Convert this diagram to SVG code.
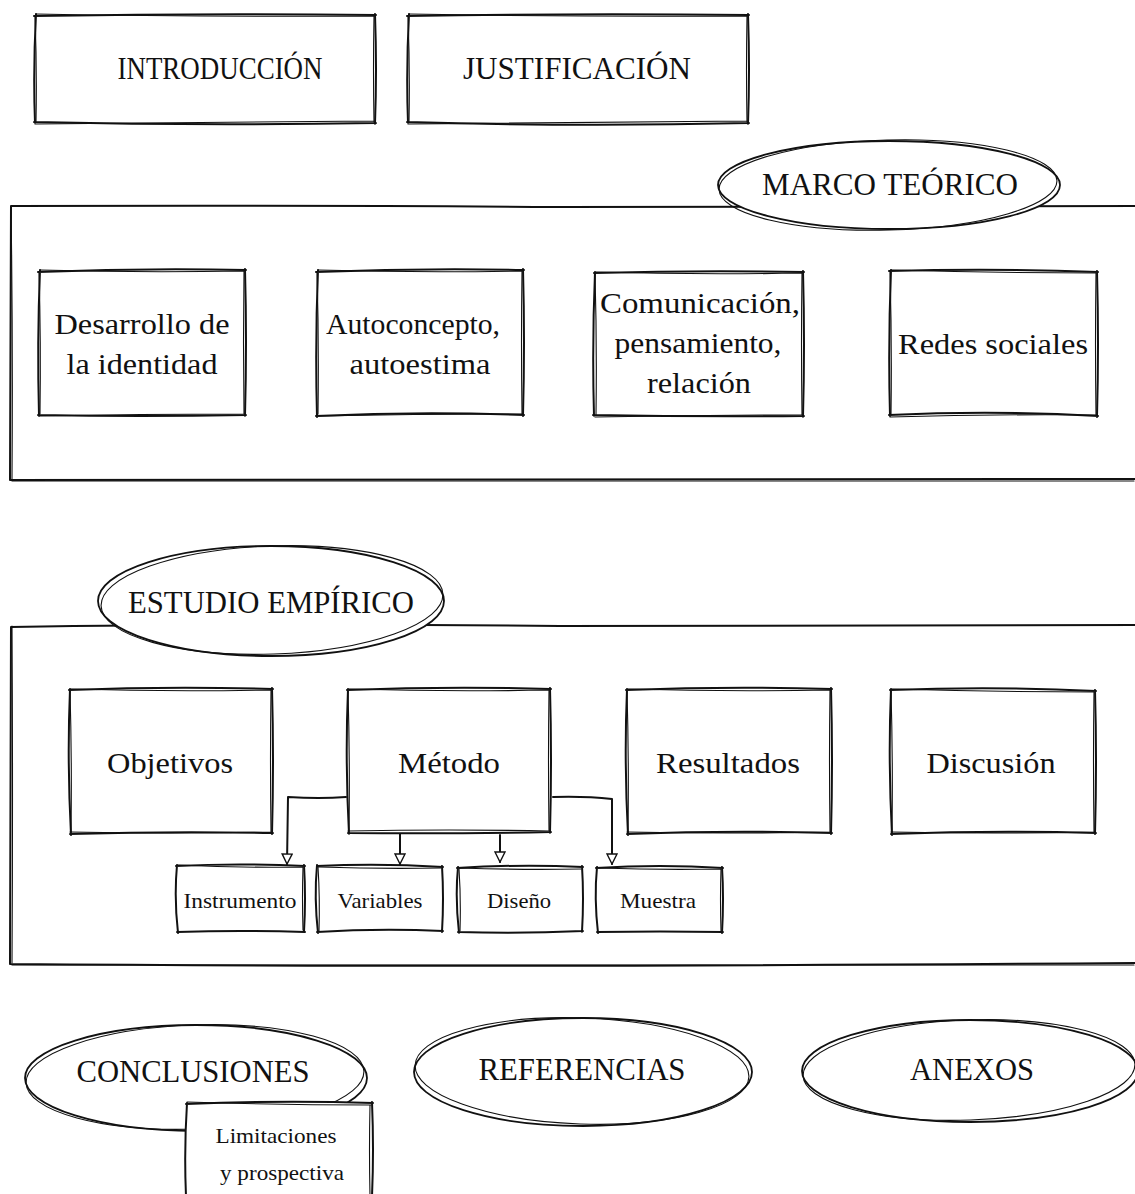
<svg xmlns="http://www.w3.org/2000/svg" width="1135" height="1194" viewBox="0 0 1135 1194">
<defs>
<style>
.s{fill:none;stroke:#111;stroke-width:2;stroke-linecap:round;stroke-linejoin:round}
.s2{fill:none;stroke:#111;stroke-width:1.1;stroke-linecap:round}
.f{fill:#fff}
.t{fill:#111;text-anchor:middle}
.big{font-size:31px}
.mid{font-size:30px}
.sm{font-size:21px}
</style>
<marker id="ah" viewBox="0 0 12 12" refX="11" refY="6" markerWidth="12" markerHeight="12" markerUnits="userSpaceOnUse" orient="auto">
<path d="M1,1 L11,6 L1,11 Z" fill="#fff" stroke="#111" stroke-width="1.4"/>
</marker>
</defs>
<rect width="1135" height="1194" fill="#fff"/>
<g font-family="Liberation Serif, Tinos, Times New Roman, Times, serif">

<g id="introduccion">
<path class="s" d="M34,16 Q205,13 376,15 M375,14 Q377,70 375,124 M376,123 Q205,126 34,122 M35,123 Q33,70 36,14"/>
<path class="s2" d="M36,14 Q200,17 374,16 M374,16 Q373,70 374,122 M374,121 Q210,122 35,124 M36,122 Q37,70 35,16"/>
<text class="t big" x="220" y="79" textLength="205" lengthAdjust="spacingAndGlyphs">INTRODUCCIÓN</text>
</g>

<g id="justificacion">
<path class="s" d="M407,16 Q578,13 749,15 M748,14 Q750,70 748,124 M749,123 Q578,127 407,122 M408,123 Q406,70 409,14"/>
<path class="s2" d="M409,14 Q575,17 747,16 M747,16 Q746,70 747,122 M747,121 Q580,122 408,124 M409,122 Q410,70 408,16"/>
<text class="t big" x="577" y="79" textLength="228" lengthAdjust="spacingAndGlyphs">JUSTIFICACIÓN</text>
</g>

<g id="marco-container">
<path class="s" d="M1135,206 L560,207 Q300,205 11,206 L10,480 Q500,482 1135,479"/>
<path class="s2" d="M11,207 Q13,340 12,479 M12,481 Q500,479 1134,481"/>
</g>

<g id="marco-teorico">
<ellipse cx="889" cy="185" rx="171" ry="44" class="f" stroke="#111" stroke-width="1.8"/>
<ellipse cx="888" cy="185" rx="169" ry="45" class="s2" transform="rotate(-1.5 888 185)"/>
<text class="t big" x="890" y="195" textLength="256" lengthAdjust="spacingAndGlyphs">MARCO TEÓRICO</text>
</g>

<g id="desarrollo">
<path class="s" d="M38,272 Q140,268 246,270 M245,269 Q247,342 245,416 M246,415 Q140,417 38,415 M39,416 Q37,342 40,270"/>
<path class="s2" d="M40,270 Q140,273 244,271 M244,271 Q243,342 244,414 M244,414 Q140,414 39,416 M40,414 Q41,342 39,272"/>
<text class="t mid" x="142" y="334" textLength="175" lengthAdjust="spacingAndGlyphs">Desarrollo de</text>
<text class="t mid" x="142" y="374" textLength="151" lengthAdjust="spacingAndGlyphs">la identidad</text>
</g>

<g id="autoconcepto">
<path class="s" d="M316,272 Q420,268 524,270 M523,269 Q525,342 523,416 M524,415 Q420,411 316,416 M317,417 Q315,342 318,270"/>
<path class="s2" d="M318,270 Q420,273 522,271 M522,271 Q521,342 522,414 M522,414 Q420,414 317,416 M318,414 Q319,342 317,272"/>
<text class="t mid" x="413" y="334" textLength="174" lengthAdjust="spacingAndGlyphs">Autoconcepto,</text>
<text class="t mid" x="420" y="374" textLength="141" lengthAdjust="spacingAndGlyphs">autoestima</text>
</g>

<g id="comunicacion">
<path class="s" d="M594,273 Q700,270 804,272 M803,271 Q805,344 803,417 M804,416 Q700,417 593,415 M594,416 Q592,344 595,272"/>
<path class="s2" d="M596,272 Q700,275 802,273 M802,273 Q801,344 802,415 M802,415 Q700,415 595,417 M596,415 Q597,344 595,274"/>
<text class="t mid" x="700" y="313" textLength="200" lengthAdjust="spacingAndGlyphs">Comunicación,</text>
<text class="t mid" x="698" y="353" textLength="167" lengthAdjust="spacingAndGlyphs">pensamiento,</text>
<text class="t mid" x="699" y="393" textLength="104" lengthAdjust="spacingAndGlyphs">relación</text>
</g>

<g id="redes">
<path class="s" d="M889,271 Q995,268 1098,272 M1097,271 Q1099,344 1097,417 M1098,416 Q995,410 889,415 M890,416 Q888,344 891,270"/>
<path class="s2" d="M891,270 Q995,273 1096,273 M1096,273 Q1095,344 1096,415 M1096,415 Q995,414 890,417 M891,415 Q892,344 890,272"/>
<text class="t mid" x="993" y="354" textLength="190" lengthAdjust="spacingAndGlyphs">Redes sociales</text>
</g>

<g id="estudio-container">
<path class="s" d="M1135,625 L560,626 Q300,623 11,627 L10,964 Q500,968 1135,963"/>
<path class="s2" d="M12,626 Q13,800 12,963 M12,965 Q500,963 1134,965"/>
</g>

<g id="estudio-empirico">
<ellipse cx="271" cy="601" rx="173" ry="55" class="f" stroke="#111" stroke-width="1.8"/>
<ellipse cx="272" cy="600" rx="171" ry="54" class="s2" transform="rotate(-2 272 600)"/>
<text class="t big" x="271" y="613" textLength="286" lengthAdjust="spacingAndGlyphs">ESTUDIO EMPÍRICO</text>
</g>

<g id="objetivos">
<path class="s" d="M69,690 Q170,686 273,689 M272,688 Q274,760 272,834 M273,833 Q170,831 70,834 M71,835 Q67,760 70,689"/>
<path class="s2" d="M71,689 Q170,692 271,690 M271,690 Q270,760 271,832 M271,832 Q170,834 70,832 M71,832 Q72,760 70,691"/>
<text class="t mid" x="170" y="773" textLength="126" lengthAdjust="spacingAndGlyphs">Objetivos</text>
</g>

<g id="metodo">
<path class="s" d="M347,690 Q450,686 551,689 M550,688 Q552,760 550,833 M551,832 Q450,834 348,833 M349,834 Q345,760 348,689"/>
<path class="s2" d="M349,689 Q450,692 549,690 M549,690 Q548,760 549,831 M549,831 Q450,829 348,831 M349,831 Q350,760 348,691"/>
<text class="t mid" x="449" y="773" textLength="102" lengthAdjust="spacingAndGlyphs">Método</text>
</g>

<g id="resultados">
<path class="s" d="M626,690 Q730,686 832,689 M831,688 Q833,760 831,834 M832,833 Q730,830 627,834 M628,835 Q624,760 627,689"/>
<path class="s2" d="M628,689 Q730,692 830,690 M830,690 Q829,760 830,832 M830,832 Q730,834 627,832 M628,832 Q629,760 627,691"/>
<text class="t mid" x="728" y="773" textLength="144" lengthAdjust="spacingAndGlyphs">Resultados</text>
</g>

<g id="discusion">
<path class="s" d="M890,690 Q995,686 1096,691 M1095,690 Q1097,760 1095,834 M1096,833 Q995,830 891,834 M892,835 Q888,760 891,689"/>
<path class="s2" d="M892,689 Q995,692 1094,692 M1094,692 Q1093,760 1094,832 M1094,832 Q995,834 891,832 M892,832 Q893,760 891,691"/>
<text class="t mid" x="991" y="773" textLength="129" lengthAdjust="spacingAndGlyphs">Discusión</text>
</g>

<g id="instrumento">
<path class="s" d="M176,866 Q240,863 305,866 M304,865 Q306,898 304,932 M305,932 Q240,930 177,932 M178,933 Q174,898 177,865"/>
<path class="s2" d="M178,865 Q240,868 303,867 M303,867 Q302,898 303,930"/>
<text class="t sm" x="240" y="908" textLength="113" lengthAdjust="spacingAndGlyphs">Instrumento</text>
</g>

<g id="variables">
<path class="s" d="M317,866 Q380,863 443,867 M442,866 Q444,898 442,932 M443,931 Q380,928 317,932 M318,933 Q314,898 317,865"/>
<path class="s2" d="M319,867 Q380,869 441,868 M319,931 Q320,898 318,867"/>
<text class="t sm" x="380" y="908" textLength="85" lengthAdjust="spacingAndGlyphs">Variables</text>
</g>

<g id="diseno">
<path class="s" d="M457,868 Q520,864 583,867 M582,866 Q584,898 582,932 M583,931 Q520,934 458,932 M459,933 Q455,898 458,867"/>
<path class="s2" d="M459,868 Q520,870 581,869 M460,931 Q461,898 459,869"/>
<text class="t sm" x="519" y="908" textLength="64" lengthAdjust="spacingAndGlyphs">Diseño</text>
</g>

<g id="muestra">
<path class="s" d="M596,868 Q660,864 723,868 M722,867 Q724,898 722,933 M723,932 Q660,931 597,932 M598,933 Q594,898 597,867"/>
<path class="s2" d="M598,868 Q660,870 721,869 M721,869 Q720,898 721,931"/>
<text class="t sm" x="658" y="908" textLength="76" lengthAdjust="spacingAndGlyphs">Muestra</text>
</g>

<g id="connectors">
<path class="s" d="M346,797 Q320,799 288,797 L287,864" marker-end="url(#ah)"/>
<path class="s" d="M400,834 L400,864" marker-end="url(#ah)"/>
<path class="s" d="M500,835 L500,862" marker-end="url(#ah)"/>
<path class="s" d="M553,797 Q585,796 612,799 L612,864" marker-end="url(#ah)"/>
</g>

<g id="conclusiones">
<ellipse cx="196" cy="1078" rx="171" ry="53" class="f" stroke="#111" stroke-width="1.8"/>
<ellipse cx="195" cy="1077" rx="169" ry="52" class="s2" transform="rotate(-2 195 1077)"/>
<text class="t big" x="193" y="1082" textLength="233" lengthAdjust="spacingAndGlyphs">CONCLUSIONES</text>
</g>

<g id="limitaciones">
<path class="f" d="M186,1103 L372,1103 L372,1194 L186,1194 Z"/>
<path class="s" d="M186,1104 Q280,1100 373,1103 M372,1102 Q374,1150 372,1196 M186,1196 Q184,1150 187,1103"/>
<path class="s2" d="M187,1102 Q280,1105 371,1105 M370,1105 Q369,1150 370,1196"/>
<text class="t sm" x="276" y="1143" textLength="121" lengthAdjust="spacingAndGlyphs">Limitaciones</text>
<text class="t sm" x="282" y="1180" textLength="124" lengthAdjust="spacingAndGlyphs">y prospectiva</text>
</g>

<g id="referencias">
<ellipse cx="583" cy="1072" rx="169" ry="54" class="f" stroke="#111" stroke-width="1.8"/>
<ellipse cx="582" cy="1071" rx="167" ry="53" class="s2" transform="rotate(2 582 1071)"/>
<text class="t big" x="582" y="1080" textLength="207" lengthAdjust="spacingAndGlyphs">REFERENCIAS</text>
</g>

<g id="anexos">
<ellipse cx="970" cy="1071" rx="168" ry="51" class="f" stroke="#111" stroke-width="1.8"/>
<ellipse cx="969" cy="1070" rx="166" ry="50" class="s2" transform="rotate(-2 969 1070)"/>
<text class="t big" x="972" y="1080" textLength="124" lengthAdjust="spacingAndGlyphs">ANEXOS</text>
</g>
</g>
</svg>
